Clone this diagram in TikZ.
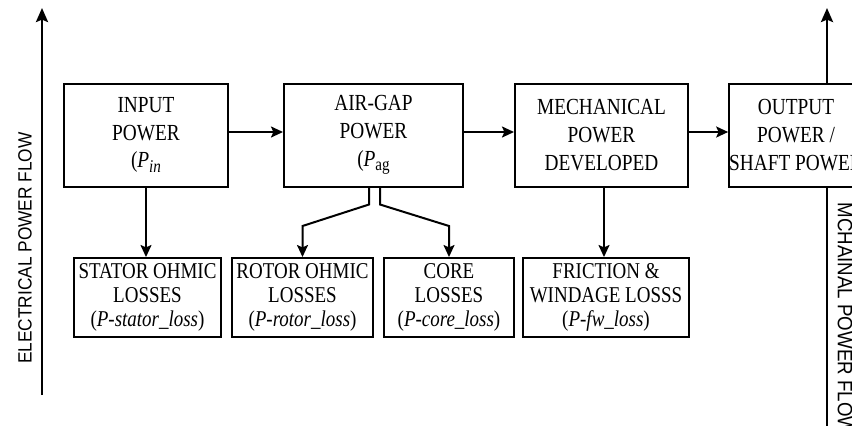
\documentclass[tikz,border=0pt]{standalone}
\usepackage{fontspec}
\setmainfont{Liberation Serif}[FakeStretch=0.84]
\newfontfamily\axisfont{Liberation Sans}[FakeStretch=0.9]
\usetikzlibrary{arrows.meta,calc}
\tikzset{
  box/.style={draw, line width=1pt, rectangle, inner sep=0pt, align=center,
    font=\fontsize{11.5}{13.9}\selectfont, minimum height=51.5pt},
  lossbox/.style={box, minimum height=39.5pt, font=\fontsize{11.3}{12}\selectfont},
  arr/.style={line width=1pt, -{Stealth[length=6pt,width=5.5pt,inset=1.2pt]}},
  axis/.style={line width=1.3pt, -{Stealth[length=7pt,width=6pt,inset=1.2pt]}},
  axisline/.style={line width=1.3pt},
  axislabel/.style={font=\axisfont\fontsize{9.6}{11}\selectfont, inner sep=0pt}
}
\begin{document}
\begin{tikzpicture}[x=0.5pt, y=-0.5pt]
\useasboundingbox (0,0) rectangle (852,425);
\clip (0,0) rectangle (852,425);
% main boxes
\node[box, minimum width=82pt] (in) at (146,135) {INPUT\\POWER\\(\textit{P}\raisebox{-0.45ex}{\small\textit{in}}};
\node[box, minimum width=89.5pt] (ag) at (373.5,135) {AIR-GAP\\POWER\\(\textit{P}\raisebox{-0.45ex}{\small ag}};
\node[box, minimum width=86.5pt] (mech) at (601.5,135) {MECHANICAL\\POWER\\DEVELOPED};
\node[box, minimum width=63pt] (out) at (796,135) {OUTPUT\\POWER /\\SHAFT POWER};
% loss boxes
\node[lossbox, minimum width=73.5pt] (stator) at (147.5,297.5) {STATOR OHMIC\\LOSSES\\(\textit{P-stator\_loss})};
\node[lossbox, minimum width=70.5pt] (rotor) at (302.5,297.5) {ROTOR OHMIC\\LOSSES\\(\textit{P-rotor\_loss})};
\node[lossbox, minimum width=65pt] (core) at (449,297.5) {CORE\\LOSSES\\(\textit{P-core\_loss})};
\node[lossbox, minimum width=83pt] (fw) at (606,297.5) {FRICTION \&\\WINDAGE LOSSS\\(\textit{P-fw\_loss})};
% flow arrows
\draw[arr] ([yshift=1.5pt]in.east) -- ([yshift=1.5pt]ag.west);
\draw[arr] ([yshift=1.5pt]ag.east) -- ([yshift=1.5pt]mech.west);
\draw[arr] ([yshift=1.5pt]mech.east) -- ([yshift=1.5pt]out.west);
\draw[arr] (in.south) -- (in.south |- stator.north);
\draw[arr] ([xshift=1.25pt]mech.south) -- ([xshift=1.25pt]mech.south |- fw.north);
\draw[arr] ([xshift=-2.25pt]ag.south) -- ++(0,17) -- ($(rotor.north)+(0,-31)$) -- (rotor.north);
\draw[arr] ([xshift=3.25pt]ag.south) -- ++(0,17) -- ($(core.north)+(0,-31)$) -- (core.north);
% axes
\coordinate (lb) at (42,395);
\coordinate (lt) at (42,8);
\draw[axis] (lb) -- (lt);
\node[axislabel, rotate=90] (ll) at (25,248) {ELECTRICAL POWER FLOW};
\coordinate (rt) at (827,8);
\coordinate (rb) at (827,430);
\draw[axis] (rt |- out.north) -- (rt);
\draw[axisline] (rb |- out.south) -- (rb);
\node[axislabel, font=\axisfont\fontsize{10.4}{12}\selectfont, rotate=-90, anchor=west] (rl) at (845,202) {MCHAINAL POWER FLOW};
\end{tikzpicture}
\end{document}
